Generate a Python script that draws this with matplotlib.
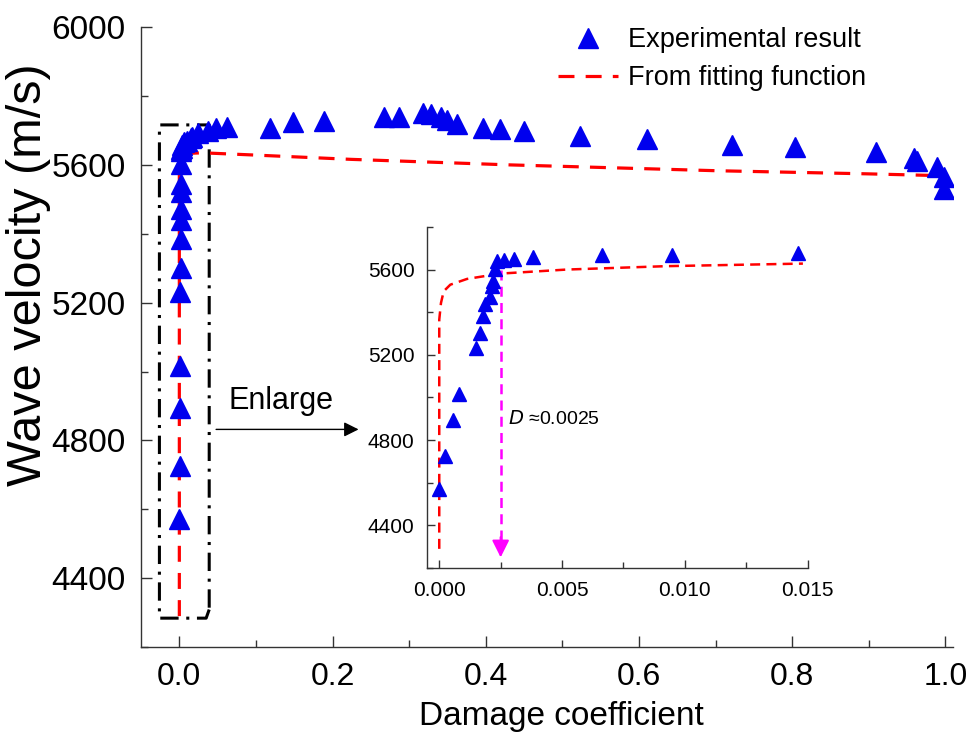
import matplotlib
matplotlib.use("Agg")
import matplotlib.pyplot as plt
from matplotlib.ticker import MultipleLocator, FormatStrFormatter

plt.rcParams['font.family'] = ['Liberation Sans', 'DejaVu Sans']

# ---- data: experimental results (damage coefficient, wave velocity m/s) ----
near_x = [0.0000, 0.00024, 0.00054, 0.0008, 0.0015, 0.00164, 0.00178, 0.00187,
          0.00205, 0.00215, 0.0022, 0.00228, 0.00235, 0.00264, 0.00305, 0.00383,
          0.00663, 0.00946, 0.01463]
near_y = [4573, 4726, 4894, 5016, 5231, 5302, 5384, 5440,
          5471, 5522, 5545, 5603, 5639, 5647, 5650, 5658,
          5667, 5670, 5678]
far_x = [0.017, 0.025, 0.038, 0.048, 0.062, 0.119, 0.148, 0.189, 0.267, 0.287,
         0.318, 0.329, 0.342, 0.350, 0.362, 0.397, 0.419, 0.450, 0.523, 0.610,
         0.722, 0.804, 0.909, 0.959, 0.963, 0.989, 0.998, 0.998]
far_y = [5682, 5693, 5697, 5706, 5711, 5706, 5723, 5726, 5740, 5738,
         5752, 5747, 5738, 5730, 5718, 5708, 5703, 5697, 5685, 5675,
         5658, 5653, 5637, 5619, 5610, 5595, 5564, 5530]

# fitting function curve
fit_main_x = [0.0, 0.0, 0.002, 0.008, 0.03, 0.093, 0.224, 0.43, 0.479, 0.701, 0.897, 0.988, 1.0]
fit_main_y = [4290, 5595, 5612, 5633, 5635, 5629, 5616, 5600, 5597, 5583, 5574, 5569, 5568]
fit_in_x = [0.0, 0.0, 0.00007, 0.00018, 0.00045, 0.00113, 0.00248, 0.00519, 0.00926, 0.01481]
fit_in_y = [4290, 5365, 5443, 5498, 5529, 5556, 5581, 5600, 5616, 5628]

D_mark = 0.0025

x_ticks = [0.0, 0.2, 0.4, 0.6, 0.8, 1.0]
y_ticks = [4400, 4800, 5200, 5600, 6000]
in_x_ticks = [0.000, 0.005, 0.010, 0.015]
in_y_ticks = [4400, 4800, 5200, 5600]

all_x = near_x + far_x
all_y = near_y + far_y

BLUE = '#0000ee'

fig = plt.figure(figsize=(9.66, 7.32), dpi=100)
ax = fig.add_axes([0.146, 0.116, 0.8405, 0.847])

h_exp, = ax.plot(all_x, all_y, linestyle='none', marker='^', ms=14, color=BLUE,
                 mec=BLUE, label='Experimental result', zorder=3)
h_fit, = ax.plot(fit_main_x, fit_main_y, color='red', lw=2.3, dashes=(5, 3.5),
                 label='From fitting function', zorder=2)

ax.set_xlim(-0.05, 1.01)
ax.set_ylim(4200, 6000)
ax.set_xticks(x_ticks)
ax.set_yticks(y_ticks)
ax.xaxis.set_minor_locator(MultipleLocator(0.1))
ax.yaxis.set_minor_locator(MultipleLocator(200))
ax.xaxis.set_major_formatter(FormatStrFormatter('%.1f'))
for s in ['top', 'right']:
    ax.spines[s].set_visible(False)
for s in ['left', 'bottom']:
    ax.spines[s].set_linewidth(1.0)
    ax.spines[s].set_color('#333333')
ax.tick_params(which='both', direction='in', colors='#333333', labelcolor='black',
               labelsize=23, width=1.0)
ax.tick_params(axis='y', labelsize=24, pad=11)
ax.tick_params(which='major', length=8)
ax.tick_params(which='minor', length=5)
ax.tick_params(axis='x', pad=11)
ax.set_xlabel('Damage coefficient', fontsize=24)
ax.xaxis.set_label_coords(0.518, -0.112)
ax.xaxis.label.set_va('center')
ax.set_ylabel('Wave velocity (m/s)', fontsize=35)
ax.yaxis.set_label_coords(-0.138, 0.6)
ax.yaxis.label.set_va('center')

# dash-dot enlargement box
bx0, bx1, by0, by1 = -0.026, 0.039, 4284, 5716
ax.plot([bx1, bx1 - 0.004, bx0, bx0, bx1, bx1],
        [by0 + 25, by0, by0, by1, by1, by0 + 25],
        color='black', lw=2.2, dashes=(6, 2.5, 1, 2.5), zorder=1)

ax.annotate('', xy=(0.234, 4832), xytext=(0.048, 4832),
            arrowprops=dict(arrowstyle='-|>', color='black', lw=1.0,
                            mutation_scale=22, shrinkA=0, shrinkB=0))
ax.text(0.064, 4870, 'Enlarge', fontsize=22, ha='left', va='bottom')

ax.legend([h_exp, h_fit], ['Experimental result', 'From fitting function'],
          loc='upper left', bbox_to_anchor=(0.514, 1.0), frameon=False,
          fontsize=19.5, handlelength=2.2, handletextpad=0.36,
          labelspacing=0.45, borderpad=0, borderaxespad=0, numpoints=1)

# ---- inset ----
ins = fig.add_axes([0.442, 0.224, 0.394, 0.466])
ins.plot(fit_in_x, fit_in_y, color='red', lw=1.8, dashes=(4, 2.5), zorder=2)
ins.plot(near_x, near_y, linestyle='none', marker='^', ms=10, color=BLUE,
         mec=BLUE, zorder=3)
ins.plot([D_mark, D_mark], [5600, 4330], color='magenta', lw=1.8, dashes=(4, 2.5), zorder=2)
ins.annotate('', xy=(D_mark, 4250), xytext=(D_mark, 4345),
             arrowprops=dict(arrowstyle='-|>', color='magenta', lw=1.5,
                             mutation_scale=26, shrinkA=0, shrinkB=0))
ins.text(0.0028, 4899, r'$\it{D}$ ≈0.0025', fontsize=14, ha='left', va='center')
ins.set_xlim(-0.0005, 0.0150)
ins.set_ylim(4200, 5800)
ins.set_xticks(in_x_ticks)
ins.set_yticks(in_y_ticks)
ins.xaxis.set_minor_locator(MultipleLocator(0.0025))
ins.yaxis.set_minor_locator(MultipleLocator(200))
ins.xaxis.set_major_formatter(FormatStrFormatter('%.3f'))
for s in ['top', 'right']:
    ins.spines[s].set_visible(False)
for s in ['left', 'bottom']:
    ins.spines[s].set_linewidth(1.0)
    ins.spines[s].set_color('#333333')
ins.tick_params(which='both', direction='in', colors='#333333', labelcolor='black',
                labelsize=15, width=1.0)
ins.tick_params(which='major', length=6)
ins.tick_params(which='minor', length=4)
ins.tick_params(axis='x', pad=9)
ins.tick_params(axis='y', pad=9)
ins.patch.set_alpha(0)

fig.savefig('out.png', dpi=100)
